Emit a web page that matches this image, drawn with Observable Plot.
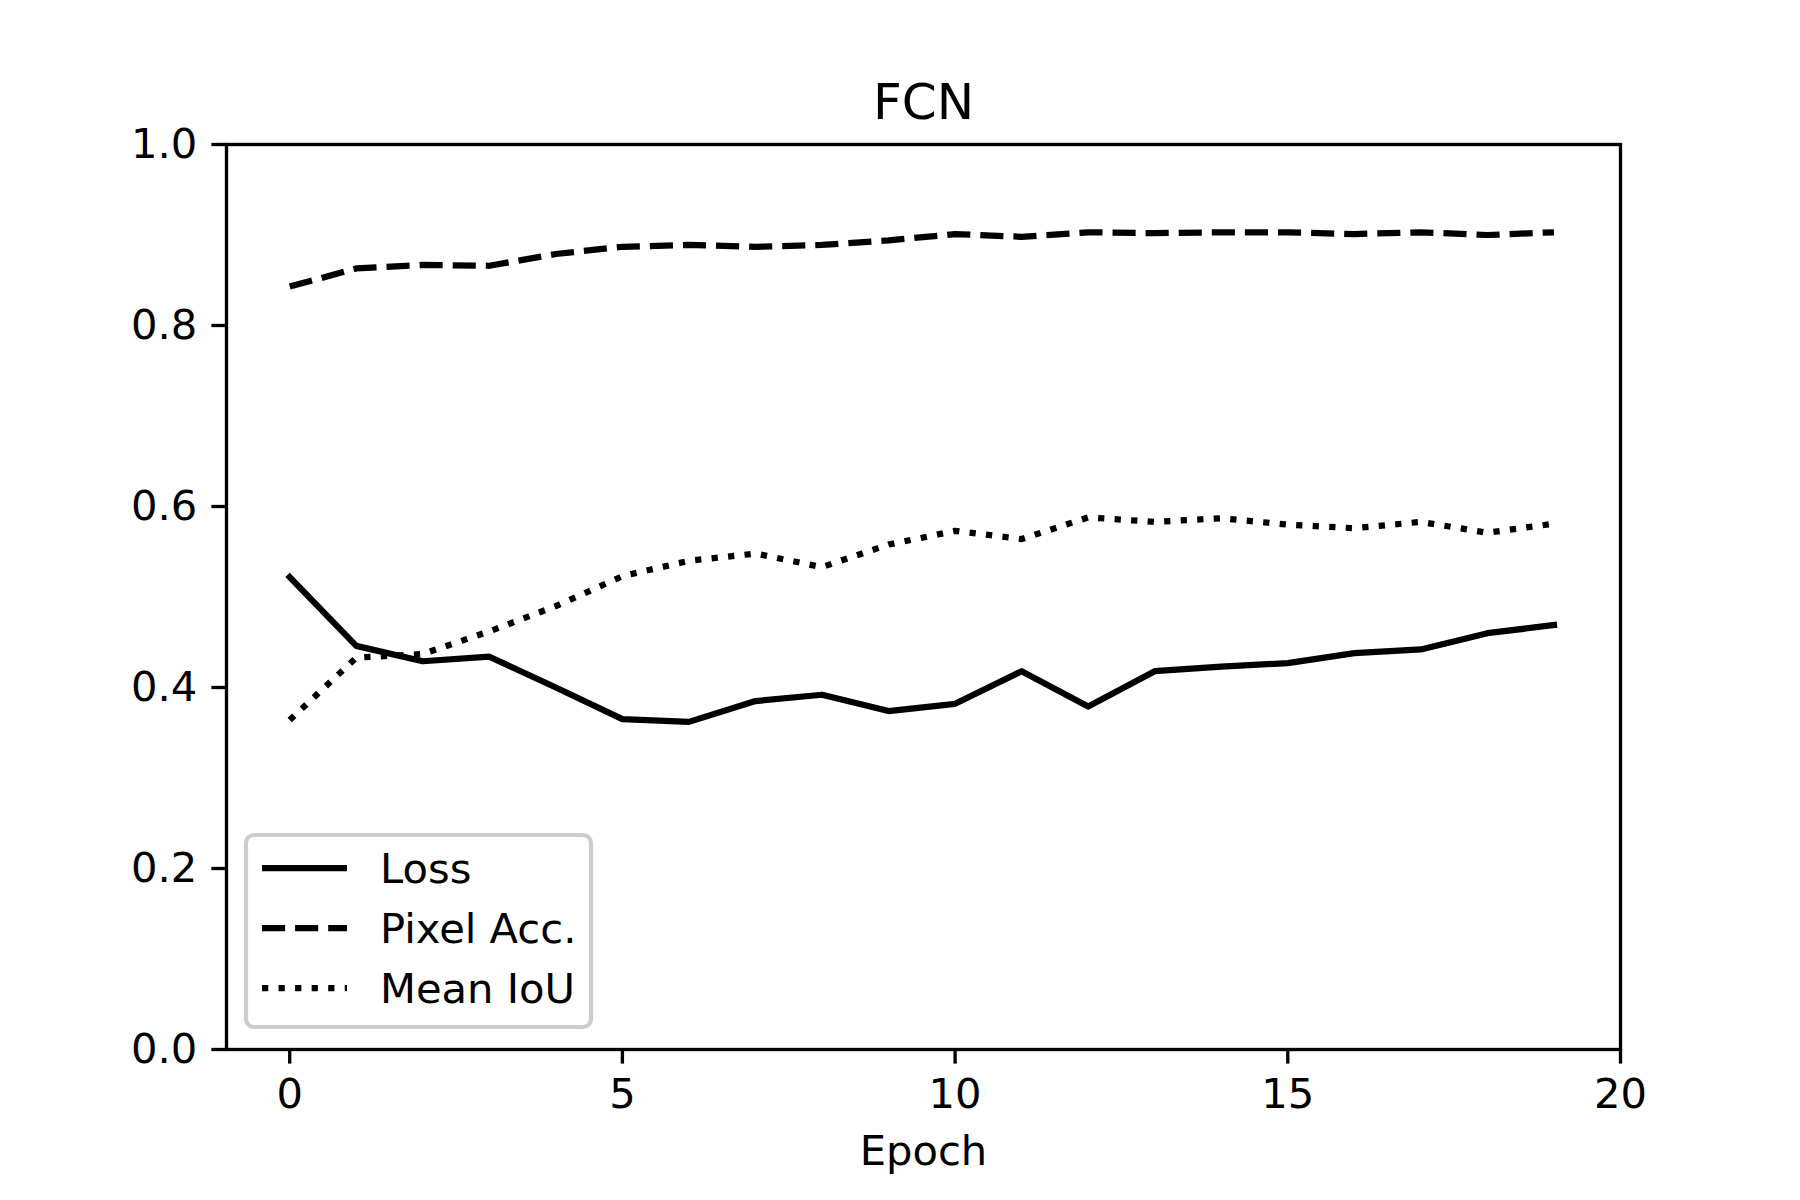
<!DOCTYPE html>
<html><head><meta charset="utf-8">
<script src="https://cdn.jsdelivr.net/npm/d3@7"></script>
<script src="https://cdn.jsdelivr.net/npm/@observablehq/plot@0.6"></script>
<style>body{margin:0;background:#fff}</style>
</head><body><div id="chart"></div>
<script>
const epochs = [0,1,2,3,4,5,6,7,8,9,10,11,12,13,14,15,16,17,18,19];
const loss = [0.522,0.446,0.429,0.434,0.400,0.365,0.362,0.385,0.392,0.374,0.382,0.418,0.379,0.418,0.423,0.427,0.438,0.442,0.460,0.469];
const pixelAcc = [0.843,0.863,0.867,0.866,0.879,0.887,0.889,0.887,0.889,0.894,0.901,0.898,0.903,0.902,0.903,0.903,0.901,0.903,0.900,0.903];
const meanIoU = [0.364,0.433,0.437,0.462,0.490,0.523,0.540,0.548,0.533,0.558,0.573,0.564,0.588,0.583,0.587,0.580,0.576,0.583,0.571,0.581];
const seriesNames = ["Loss","Pixel Acc.","Mean IoU"];
const xTicks = [0,5,10,15,20];
const yTicks = [0,0.2,0.4,0.6,0.8,1.0];
const titleText = "FCN";
const xLabelText = "Epoch";

const LW = 6.25;
const dashes = ["none", "23.1,10", "6.25,10.3"];
const caps = ["square", "butt", "butt"];
const seriesValues = [loss, pixelAcc, meanIoU];
const tables = seriesValues.map((vals, i) => epochs.map((e, j) => ({epoch: e, value: vals[j], series: seriesNames[i]})));

const chart = Plot.plot({
  width: 1800,
  height: 1200,
  marginLeft: 226,
  marginRight: 180,
  marginTop: 144,
  marginBottom: 151,
  style: {fontFamily: "DejaVu Sans", fontSize: "41.67px", background: "white", color: "black"},
  x: {domain: [-0.95, 20]},
  y: {domain: [0, 1]},
  marks: [
    ...tables.map((t, i) => Plot.line(t, {x: "epoch", y: "value", stroke: "black", strokeWidth: LW,
      strokeDasharray: dashes[i], strokeLinecap: caps[i], strokeLinejoin: "round"})),
    Plot.frame({stroke: "black", strokeWidth: 3.33}),
    Plot.axisY({ticks: yTicks, tickFormat: d3.format(".1f"), tickSize: 14.6, tickPadding: 14.6, strokeWidth: 3.33, fontSize: 41.67, label: null}),
    Plot.axisX({ticks: xTicks, tickFormat: d3.format("d"), tickSize: 14.6, tickPadding: 14.6, strokeWidth: 3.33, fontSize: 41.67, label: null}),
    Plot.text([titleText], {text: d => d, frameAnchor: "top", lineAnchor: "middle", dy: -42, fontSize: 50, fill: "black"}),
    Plot.text([xLabelText], {text: d => d, frameAnchor: "bottom", lineAnchor: "middle", dy: 102, fontSize: 41.67, fill: "black"})
  ]
});
document.getElementById("chart").appendChild(chart);

// legend
const svg = d3.select(chart);
const lg = svg.append("g").attr("class", "legend").attr("text-anchor", "start");
lg.append("rect").attr("x", 246).attr("y", 835).attr("width", 345).attr("height", 192)
  .attr("rx", 8).attr("fill", "white").attr("fill-opacity", 0.8).attr("stroke", "#cccccc").attr("stroke-width", 4.17);
seriesNames.forEach((name, i) => {
  const cy = 868 + i * 60;
  lg.append("line").attr("x1", 262).attr("x2", 347).attr("y1", cy).attr("y2", cy)
    .attr("stroke", "black").attr("stroke-width", LW).attr("stroke-dasharray", dashes[i]).attr("stroke-linecap", "butt");
  lg.append("text").attr("x", 380).attr("y", cy).attr("dy", "0.35em").attr("font-size", 41.67)
    .attr("text-anchor", "start").attr("font-family", "DejaVu Sans").attr("fill", "black").text(name);
});
</script>
</body></html>
